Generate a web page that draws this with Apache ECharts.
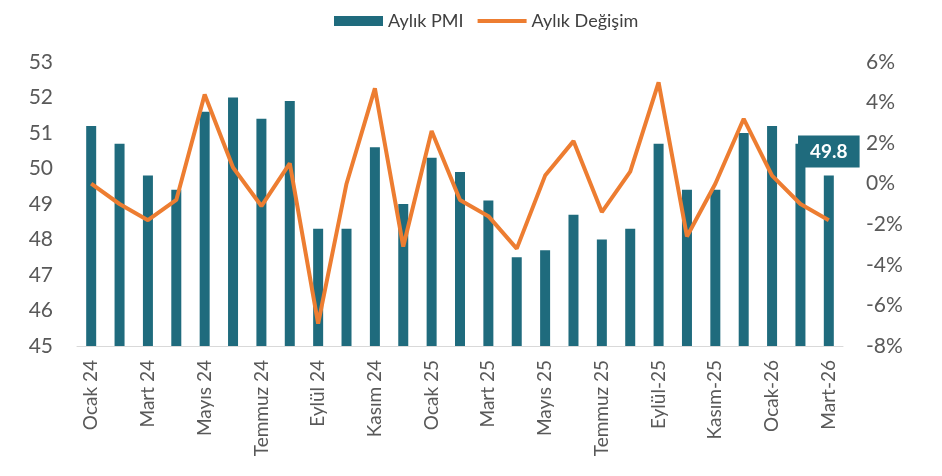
<!DOCTYPE html>
<html>
<head>
<meta charset="utf-8">
<script src="https://cdn.jsdelivr.net/npm/echarts@6/dist/echarts.min.js"></script>
<style>
  html, body { margin: 0; padding: 0; background: #fff; }
  #chart { width: 942px; height: 476px; }
</style>
</head>
<body>
<div id="chart"></div>
<script>
"use strict";

// aylar
const aylar = ['Ocak 24', 'Şubat 24', 'Mart 24', 'Nisan 24', 'Mayıs 24', 'Haziran 24', 'Temmuz 24', 'Ağustos 24',
  'Eylül 24', 'Ekim 24', 'Kasım 24', 'Aralık 24', 'Ocak 25', 'Şubat 25', 'Mart 25', 'Nisan 25', 'Mayıs 25',
  'Haziran 25', 'Temmuz 25', 'Ağustos 25', 'Eylül-25', 'Ekim-25', 'Kasım-25', 'Aralık-25', 'Ocak-26',
  'Şubat-26', 'Mart-26'];

// PMI seviyesi (sol eksen)
const pmi = [51.2, 50.7, 49.8, 49.4, 51.6, 52.0, 51.4, 51.9, 48.3, 48.3, 50.6, 49.0, 50.3, 49.9,
  49.1, 47.5, 47.7, 48.7, 48.0, 48.3, 50.7, 49.4, 49.4, 51.0, 51.2, 50.7, 49.8];

// aylık değişim % (sağ eksen)
const degisim = [0.0, -1.0, -1.8, -0.8, 4.4, 0.8, -1.1, 1.0, -6.9, 0.0, 4.7, -3.1, 2.6, -0.8,
  -1.6, -3.2, 0.4, 2.1, -1.4, 0.6, 5.0, -2.6, 0.0, 3.2, 0.4, -1.0, -1.8];

const barRenk = '#1f6b7d';
const cizgiRenk = '#ed7d31';
const yaziRenk = '#595959';
const font = 'Lato, "Open Sans", sans-serif';

// son çubuğa etiket
const pmiData = pmi.map(function (v, i) {
  if (i === pmi.length - 1) {
    return {
      value: v,
      label: {
        show: true,
        position: 'top',
        distance: 8,
        color: '#fff',
        fontFamily: font,
        fontSize: 19,
        fontWeight: 'bold',
        backgroundColor: barRenk,
        padding: [7, 12, 6, 12],
        formatter: '{c}'
      }
    };
  }
  return v;
});

var chartElem = document.getElementById('chart');
var chart = echarts.init(chartElem);
chart.setOption({
  animation: false,
  legend: {
    top: 7,
    left: 329,
    itemGap: 12,
    itemWidth: 49,
    itemHeight: 10,
    textStyle: { color: '#404040', fontFamily: font, fontSize: 18 },
    data: [
      { name: 'Aylık PMI', icon: 'rect' },
      { name: 'Aylık Değişim', itemStyle: { opacity: 0 }, lineStyle: { width: 4, color: cizgiRenk } }
    ]
  },
  grid: {
    left: 77,
    right: 99,
    top: 62,
    bottom: 130
  },
  xAxis: [{
    type: 'category',
    data: aylar,
    axisTick: { show: false },
    axisLine: { show: true, onZero: false, lineStyle: { color: '#d9d9d9', width: 1 } },
    axisLabel: {
      interval: 1,
      rotate: 90,
      margin: 14,
      color: yaziRenk,
      fontFamily: font,
      fontSize: 19
    },
    splitLine: { show: false }
  }],
  yAxis: [{
    type: 'value',
    min: 45,
    max: 53,
    interval: 1,
    axisLine: { show: false },
    axisTick: { show: false },
    splitLine: { show: false },
    axisLabel: { color: yaziRenk, fontFamily: font, fontSize: 21, margin: 24 }
  }, {
    type: 'value',
    min: -8,
    max: 6,
    interval: 2,
    axisLine: { show: false },
    axisTick: { show: false },
    splitLine: { show: false },
    axisLabel: { color: yaziRenk, fontFamily: font, fontSize: 21, margin: 23, formatter: '{value}%' }
  }],
  series: [{
    name: 'Aylık PMI',
    type: 'bar',
    data: pmiData,
    barWidth: 10,
    itemStyle: { color: barRenk }
  }, {
    name: 'Aylık Değişim',
    type: 'line',
    yAxisIndex: 1,
    data: degisim,
    symbol: 'none',
    lineStyle: { color: cizgiRenk, width: 4 },
    itemStyle: { color: cizgiRenk },
    z: 3
  }]
});
</script>
</body>
</html>
